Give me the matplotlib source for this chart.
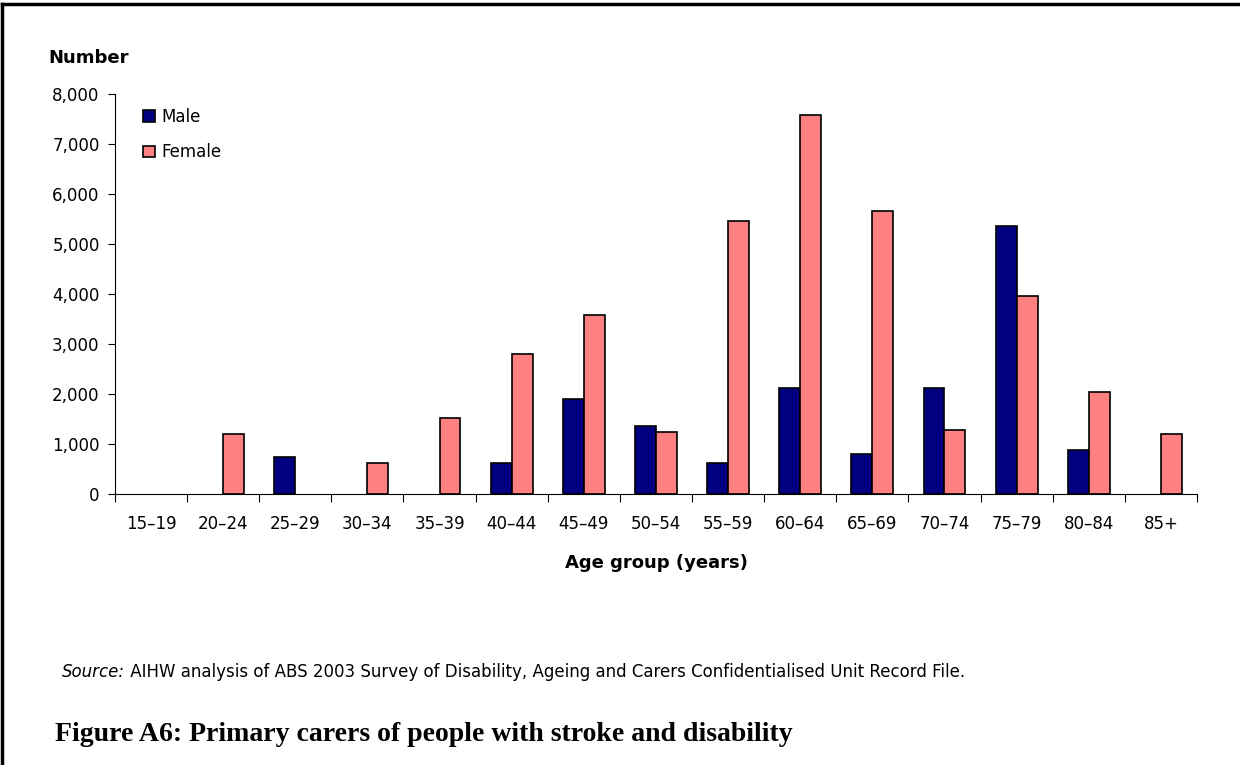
import numpy as np
import matplotlib.pyplot as plt
from matplotlib.lines import Line2D

# age groups and number of primary carers
age_groups = ['15–19', '20–24', '25–29', '30–34', '35–39', '40–44', '45–49', '50–54',
              '55–59', '60–64', '65–69', '70–74', '75–79', '80–84', '85+']
male = [0, 0, 740, 0, 0, 620, 1900, 1370, 620, 2130, 800, 2120, 5360, 880, 0]
female = [0, 1200, 0, 630, 1530, 2800, 3590, 1250, 5470, 7580, 5660, 1290, 3970, 2050, 1210]

# the source chart text is wide, DejaVu Sans fits its footprint best
plt.rcParams['font.family'] = ['DejaVu Sans']

fig = plt.figure(figsize=(12.4, 7.65), dpi=100)
ax = fig.add_axes([0.0927, 0.3542, 0.8726, 0.5229])

x = np.arange(len(age_groups))
w = 0.29
# no outline on empty bars
lw_m = [1.2 if v > 0 else 0 for v in male]
lw_f = [1.2 if v > 0 else 0 for v in female]
ax.bar(x - w/2, male, w, color='#000080', edgecolor='black', linewidth=lw_m, label='Male')
ax.bar(x + w/2, female, w, color='#FF8080', edgecolor='black', linewidth=lw_f, label='Female')

ax.set_xlim(-0.5, len(age_groups) - 0.5)
ax.set_ylim(0, 8000)
ax.set_yticks(range(0, 8001, 1000))
ax.set_yticklabels([f'{v:,}' for v in range(0, 8001, 1000)], fontsize=12)

# tick marks sit between categories, labels in the middle
ax.set_xticks(np.arange(-0.5, len(age_groups), 1))
ax.set_xticklabels([])
ax.set_xticks(x, minor=True)
ax.set_xticklabels(age_groups, minor=True, fontsize=12)
ax.tick_params(axis='x', which='minor', length=0, pad=15)
ax.tick_params(axis='x', which='major', length=6, width=0.8)
ax.tick_params(axis='y', length=5, width=0.8, pad=6)

for s in ['top', 'right']:
    ax.spines[s].set_visible(False)
for s in ['left', 'bottom']:
    ax.spines[s].set_linewidth(0.8)

ax.set_xlabel('Age group (years)', fontsize=13, fontweight='bold', labelpad=15)
fig.text(48/1240, 1 - 58/765, 'Number', fontsize=13, fontweight='bold', va='center')

leg = ax.legend(loc='upper left', bbox_to_anchor=(0.012, 1.003), frameon=False, fontsize=12,
                handlelength=0.7, handleheight=0.7, handletextpad=0.4, labelspacing=1.05)
for h in leg.legend_handles:
    h.set_linewidth(1.2)

# source note: italic "Source:" followed by plain text on the same baseline
src_y = 1 - 677/765
src = fig.text(62/1240, src_y, 'Source:', fontsize=12, va='baseline', style='italic')
fig.canvas.draw()
bb = src.get_window_extent().transformed(fig.transFigure.inverted())
fig.text(bb.x1, src_y, ' AIHW analysis of ABS 2003 Survey of Disability, Ageing and Carers '
         'Confidentialised Unit Record File.', fontsize=12, va='baseline')

fig.text(55/1240, 1 - 741/765, 'Figure A6: Primary carers of people with stroke and disability',
         fontsize=20, fontweight='bold', va='baseline', family='Liberation Serif')

# page frame: top and left edges
fig.add_artist(Line2D([0.0015, 1], [1 - 4/765, 1 - 4/765], color='black', linewidth=2.5,
                      transform=fig.transFigure))
fig.add_artist(Line2D([0.0015, 0.0015], [0, 1 - 4/765], color='black', linewidth=2.5,
                      transform=fig.transFigure))

plt.savefig('out.png')
